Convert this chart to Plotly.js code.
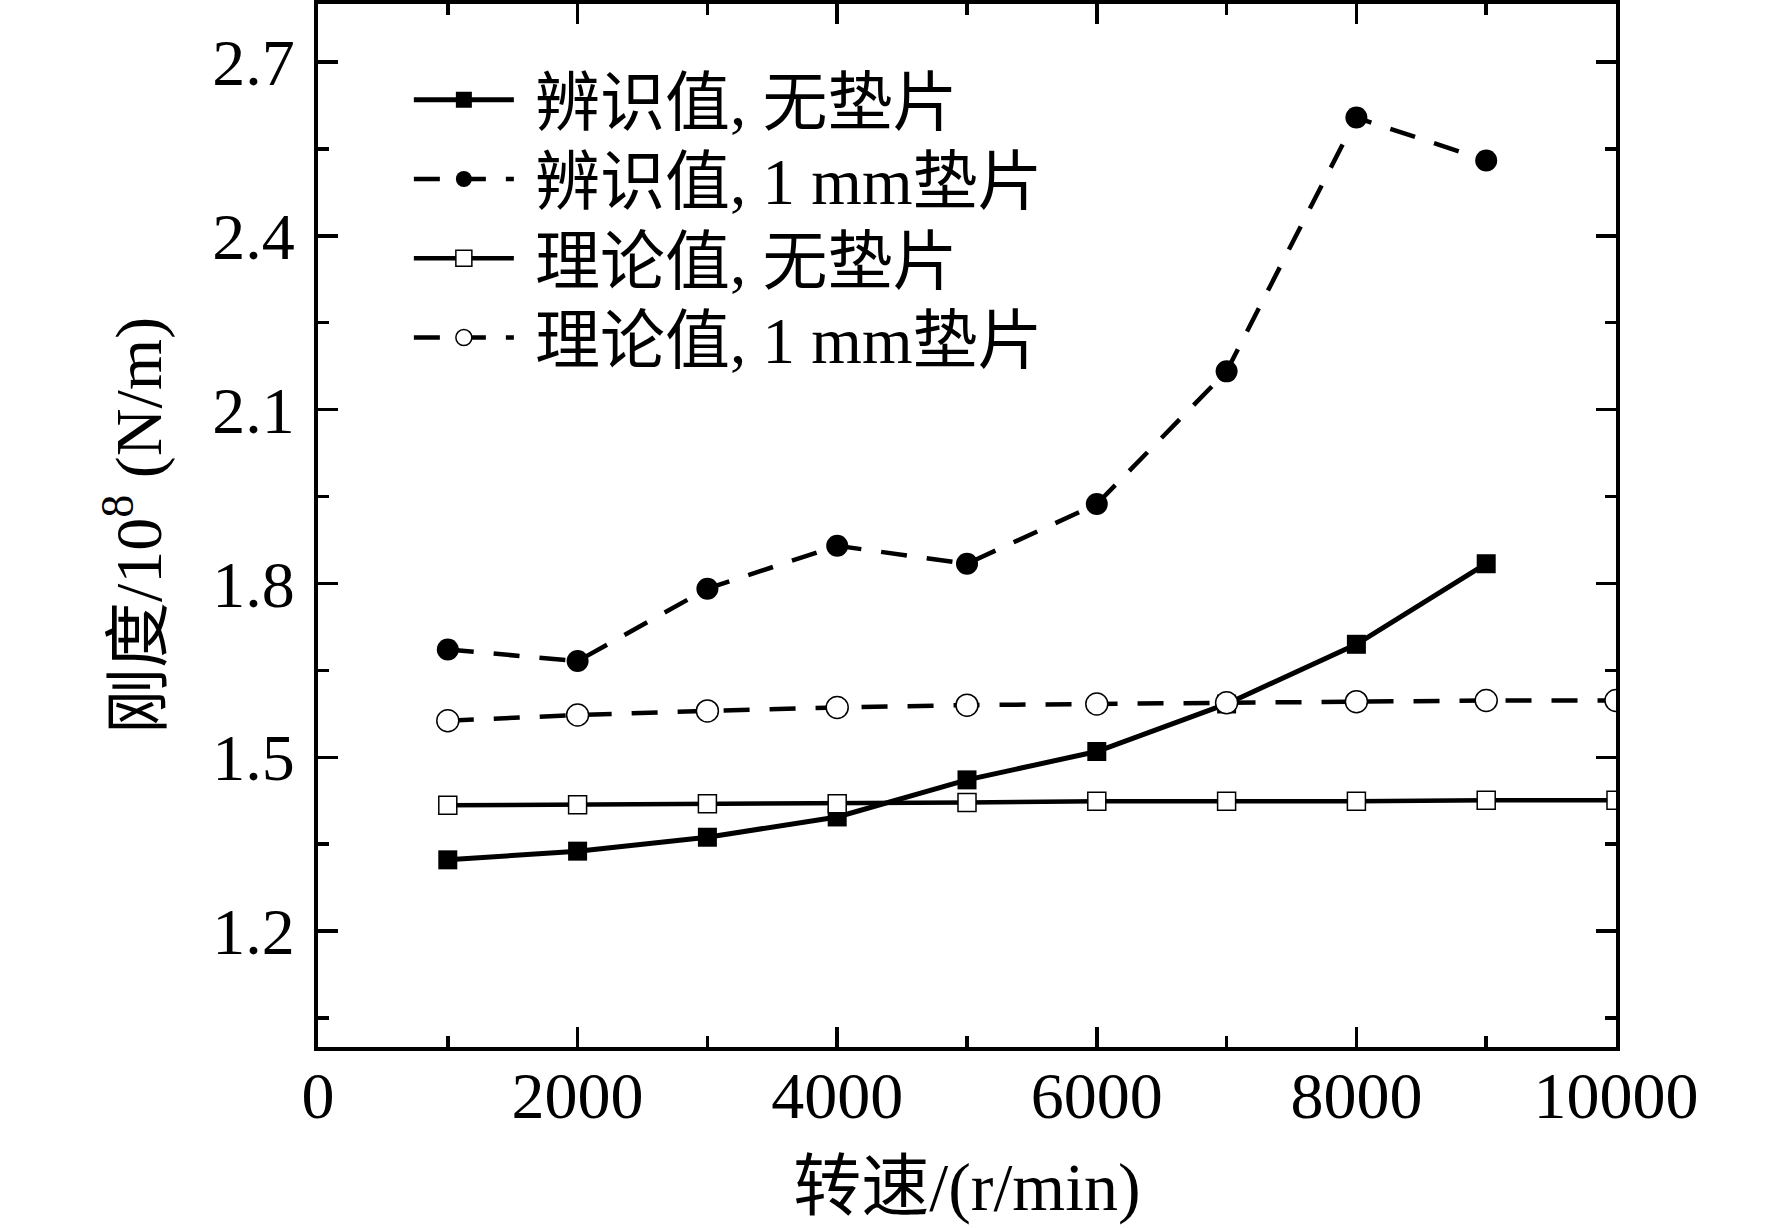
<!DOCTYPE html>
<html>
<head>
<meta charset="utf-8">
<script src="https://cdn.plot.ly/plotly-3.0.1.min.js"></script>
<style>
  html, body { margin: 0; padding: 0; background: #fff; }
  #divPlot { width: 1772px; height: 1228px; }
</style>
</head>
<body>
<div id="divPlot"></div>
<script>
// rotational speed, r/min
var speed = [1000, 2000, 3000, 4000, 5000, 6000, 7000, 8000, 9000];
var speedTheory = [1000, 2000, 3000, 4000, 5000, 6000, 7000, 8000, 9000, 10000];

// stiffness, 10^8 N/m
var identNoShim = [1.323, 1.338, 1.362, 1.397, 1.461, 1.510, 1.592, 1.695, 1.834];
var identShim = [1.686, 1.666, 1.791, 1.865, 1.834, 1.937, 2.166, 2.604, 2.530];
var theoryNoShim = [1.417, 1.418, 1.420, 1.420, 1.422, 1.424, 1.424, 1.424, 1.426, 1.426];
var theoryShim = [1.563, 1.573, 1.580, 1.586, 1.590, 1.592, 1.594, 1.596, 1.598, 1.598];

var names = ['辨识值, 无垫片', '辨识值, 1 mm垫片', '理论值, 无垫片', '理论值, 1 mm垫片'];

var FONT = '"Liberation Serif", "Times New Roman", "Noto Sans CJK SC", serif';
var dash = '26px,20px';
var pad = '\u00a0'; // small gap between legend line and its text

var trace1 = {
  x : speed,
  y : identNoShim,
  mode : 'lines+markers',
  type : 'scatter',
  name : pad + names[0],
  legend : 'legend',
  line : {color : '#000', width : 5},
  marker : {symbol : 'square', size : 19, color : '#000'}
};

var trace2 = {
  x : speed,
  y : identShim,
  mode : 'lines+markers',
  type : 'scatter',
  name : pad + names[1],
  legend : 'legend2',
  line : {color : '#000', width : 4.5, dash : dash},
  marker : {symbol : 'circle', size : 22, color : '#000'}
};

var trace3 = {
  x : speedTheory,
  y : theoryNoShim,
  mode : 'lines+markers',
  type : 'scatter',
  name : pad + names[2],
  legend : 'legend3',
  line : {color : '#000', width : 4.5},
  marker : {symbol : 'square', size : 18, color : '#fff',
            line : {color : '#000', width : 1.5}}
};

var trace4 = {
  x : speedTheory,
  y : theoryShim,
  mode : 'lines+markers',
  type : 'scatter',
  name : pad + names[3],
  legend : 'legend4',
  line : {color : '#000', width : 4.5, dash : dash},
  marker : {symbol : 'circle', size : 22, color : '#fff',
            line : {color : '#000', width : 1.5}}
};

var axisCommon = {
  showgrid : false,
  zeroline : false,
  showline : true,
  linecolor : '#000',
  linewidth : 4,
  mirror : 'ticks',
  ticks : 'inside',
  ticklen : 20,
  tickwidth : 3.5,
  tickcolor : '#000',
  tickfont : {family : FONT, size : 66, color : '#000'}
};

// one small legend box per row so the rows sit as tight as in the figure
function legendRow(y) {
  return {
    x : 0.07,
    y : y,
    xanchor : 'left',
    yanchor : 'middle',
    bgcolor : 'rgba(0,0,0,0)',
    borderwidth : 0,
    itemwidth : 100,
    font : {family : FONT, size : 65, color : '#000'}
  };
}

var layout = {
  width : 1772,
  height : 1228,
  margin : {l : 318, r : 156, t : 4, b : 181},
  paper_bgcolor : '#fff',
  plot_bgcolor : '#fff',
  showlegend : true,
  font : {family : FONT, color : '#000'},
  xaxis : Object.assign({}, axisCommon, {
    range : [0, 10000],
    tick0 : 0,
    dtick : 2000,
    tickformat : 'd',
    ticklabelstandoff : -12,
    minor : {dtick : 1000, ticks : 'inside', ticklen : 11, tickwidth : 3.5, tickcolor : '#000'},
    title : {text : '转速/(r/min)', font : {family : FONT, size : 68, color : '#000'}, standoff : 32}
  }),
  yaxis : Object.assign({}, axisCommon, {
    range : [1.0, 2.8],
    tick0 : 1.2,
    dtick : 0.3,
    tickformat : '.1f',
    ticklabelstandoff : 6,
    minor : {dtick : 0.15, tick0 : 1.05, ticks : 'inside', ticklen : 11, tickwidth : 3.5, tickcolor : '#000'},
    title : {text : '刚度/10<sup>8</sup> (N/m)', font : {family : FONT, size : 66, color : '#000'}, standoff : 30}
  }),
  legend : legendRow(0.908),
  legend2 : legendRow(0.832),
  legend3 : legendRow(0.756),
  legend4 : legendRow(0.680)
};

Plotly.newPlot('divPlot', [trace1, trace2, trace3, trace4], layout, {staticPlot : true});
</script>
</body>
</html>
